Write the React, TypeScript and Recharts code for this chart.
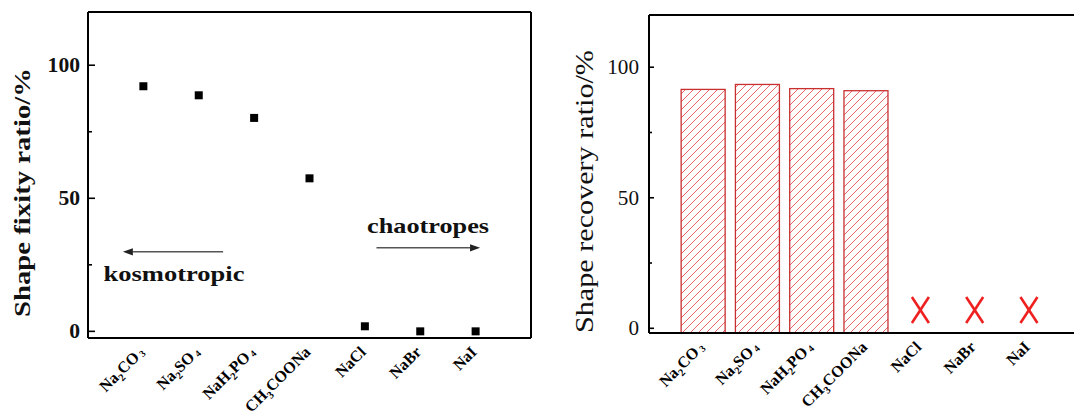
import React from 'react';
import { ComposedChart, Scatter, Bar, XAxis, YAxis, ReferenceLine, ReferenceDot } from 'recharts';

const SERIF = 'Liberation Serif, Times New Roman, serif';

// ---- data ----
const categories = ['Na2CO3', 'Na2SO4', 'NaH2PO4', 'CH3COONa', 'NaCl', 'NaBr', 'NaI'];
// label parts: [text, kind]  kind 0 = normal, 1 = subscript, 2 = trailing subscript
const categoryLabels: [string, number][][] = [
  [['Na', 0], ['2', 1], ['CO', 0], ['3', 2]],
  [['Na', 0], ['2', 1], ['SO', 0], ['4', 2]],
  [['NaH', 0], ['2', 1], ['PO', 0], ['4', 2]],
  [['CH', 0], ['3', 1], ['COONa', 0]],
  [['NaCl', 0]],
  [['NaBr', 0]],
  [['NaI', 0]],
];
const categoryIndex = [1, 2, 3, 4, 5, 6, 7];
const fixityRatio = [92.1, 88.7, 80.2, 57.5, 1.9, 0, 0];
const recoveryRatio = [91.5, 93.4, 91.8, 91.0]; // Na2CO3, Na2SO4, NaH2PO4, CH3COONa
const failedCategories = [5, 6, 7]; // NaCl, NaBr, NaI: no recovery (marked X)
const failedMarkerLevel = 7;
const yTicks = [0, 25, 50, 75, 100];
const yMajorTicks = [0, 50, 100];

const LEFT_Y_DOMAIN: [number, number] = [-2.5, 120];
const RIGHT_Y_DOMAIN: [number, number] = [-1.8, 120];
const LEFT_X_DOMAIN: [number, number] = [0, 8];
const RIGHT_X_DOMAIN: [number, number] = [0, 7.83];

const leftPoints = categoryIndex.map((x, i) => ({ x, y: fixityRatio[i], name: categories[i] }));
const rightBars = recoveryRatio.map((v, i) => ({ x: categoryIndex[i], range: [RIGHT_Y_DOMAIN[0], v], name: categories[i] }));
const failedPoints = failedCategories.map((x) => ({ x, y: failedMarkerLevel, name: categories[x - 1] }));

// ---- helpers ----
function renderParts(parts: [string, number][]) {
  let off = 0;
  return parts.map(([t, k], i) => {
    const target = k === 1 ? 4 : k === 2 ? 1.5 : 0;
    const dy = target - off;
    off = target;
    return (
      <tspan key={i} dy={dy} dx={k === 2 ? 2.5 : 0} fontSize={k === 0 ? 16 : k === 1 ? 10.5 : 9.5}>
        {t}
      </tspan>
    );
  });
}

const XTick = (props: any) => {
  const { x, y, payload } = props;
  const parts = categoryLabels[Math.round(payload.value) - 1];
  if (!parts) return null;
  return (
    <g transform={`translate(${x + 2},${y + 15})`}>
      <g transform="rotate(-45)">
        <text x={0} y={0} textAnchor="end" fontFamily={SERIF} fontWeight="bold" fill="#000">
          {renderParts(parts)}
        </text>
      </g>
    </g>
  );
};

const makeYTick = (o: { major: number; minor: number; bold: boolean; gap: number; digitW: number }) => (props: any) => {
  const { x, y, payload } = props;
  const v = payload.value;
  const isMajor = yMajorTicks.includes(v);
  const label = String(v);
  return (
    <g>
      <line x1={x} x2={x + (isMajor ? o.major : o.minor)} y1={y} y2={y} stroke="#000" strokeWidth={1.6} />
      {isMajor && (
        <text
          x={x - o.gap}
          y={y}
          dy="0.35em"
          textAnchor="end"
          fontFamily={SERIF}
          fontSize={20}
          fontWeight={o.bold ? 'bold' : 'normal'}
          fill="#111"
          textLength={label.length * o.digitW}
          lengthAdjust="spacingAndGlyphs"
        >
          {label}
        </text>
      )}
    </g>
  );
};

const LeftYTick = makeYTick({ major: 7, minor: 4, bold: true, gap: 8, digitW: 10.8 });
const RightYTick = makeYTick({ major: 5, minor: 3, bold: false, gap: 10, digitW: 10.6 });

const Square = (p: any) => <rect x={p.cx - 4} y={p.cy - 4} width={8} height={8} fill="#000" />;

const Cross = (p: any) => {
  const { cx, cy } = p;
  const w = 8.5;
  const h = 13;
  return (
    <g stroke="#ee2020" strokeWidth={2.6} strokeLinecap="butt">
      <line x1={cx - w} y1={cy - h} x2={cx + w} y2={cy + h} />
      <line x1={cx + w} y1={cy - h} x2={cx - w} y2={cy + h} />
    </g>
  );
};

// hatched bar: white box, thin "/" red lines (fixed page phase) clipped to the box, red outline
const HATCH_STEP = 8;
const HATCH_PHASE = 3;
const HatchBar = (p: any) => {
  const { x, y, width, height, index } = p;
  if (!(width > 0) || !(height > 0)) return null;
  const id = `hatch-clip-${index}`;
  const lines = [];
  const cStart = Math.ceil((x + y) / HATCH_STEP) * HATCH_STEP + HATCH_PHASE;
  const cEnd = x + width + y + height;
  for (let c = cStart; c <= cEnd; c += HATCH_STEP) {
    lines.push(
      <line key={c} x1={c - (y + height)} y1={y + height} x2={c - y} y2={y} stroke="#e04040" strokeWidth={1} />
    );
  }
  return (
    <g>
      <defs>
        <clipPath id={id}>
          <rect x={x} y={y} width={width} height={height} />
        </clipPath>
      </defs>
      <rect x={x} y={y} width={width} height={height} fill="#fff" />
      <g clipPath={`url(#${id})`} opacity={0.8}>{lines}</g>
      <rect x={x} y={y} width={width} height={height} fill="none" stroke="#c83030" strokeWidth={1.3} />
    </g>
  );
};

const Arrow = (p: any) => {
  const { x1, y1, x2, y2 } = p;
  const ang = Math.atan2(y2 - y1, x2 - x1);
  const L = 10;
  const W = 3.6;
  const bx = x2 - L * Math.cos(ang);
  const by = y2 - L * Math.sin(ang);
  const nx = -Math.sin(ang) * W;
  const ny = Math.cos(ang) * W;
  return (
    <g>
      <line x1={x1} y1={y1} x2={bx} y2={by} stroke="#555" strokeWidth={1.6} />
      <polygon points={`${x2},${y2} ${bx + nx},${by + ny} ${bx - nx},${by - ny}`} fill="#222" />
    </g>
  );
};

const makeNote = (text: string, len: number) => (p: any) => (
  <text
    x={p.cx}
    y={p.cy}
    fontFamily={SERIF}
    fontWeight="bold"
    fontSize={21}
    fill="#111"
    textLength={len}
    lengthAdjust="spacingAndGlyphs"
  >
    {text}
  </text>
);

export default function App() {
  return (
    <div style={{ position: 'absolute', left: 0, top: 0, width: 1074, height: 413, background: '#fff', overflow: 'hidden' }}>
      {/* Left panel: shape fixity ratio */}
      <div style={{ position: 'absolute', left: 0, top: 0 }}>
        <ComposedChart width={540} height={413} margin={{ top: 12, right: 9, bottom: 15, left: 0 }} data={leftPoints}>
          <XAxis
            type="number"
            dataKey="x"
            domain={LEFT_X_DOMAIN}
            ticks={categoryIndex}
            interval={0}
            allowDataOverflow
            height={60}
            tickSize={0}
            tickMargin={0}
            tickLine={false}
            axisLine={{ stroke: '#000', strokeWidth: 2 }}
            tick={<XTick />}
          />
          <YAxis
            type="number"
            dataKey="y"
            domain={LEFT_Y_DOMAIN}
            ticks={yTicks}
            interval={0}
            allowDataOverflow
            width={88}
            tickSize={0}
            tickMargin={0}
            tickLine={false}
            axisLine={{ stroke: '#000', strokeWidth: 2 }}
            tick={<LeftYTick />}
          />
          <ReferenceLine y={LEFT_Y_DOMAIN[1]} stroke="#000" strokeWidth={2} />
          <ReferenceLine x={LEFT_X_DOMAIN[1]} stroke="#000" strokeWidth={2} />
          <Scatter data={leftPoints} dataKey="y" shape={<Square />} isAnimationActive={false} />
          <ReferenceLine segment={[{ x: 2.44, y: 29.9 }, { x: 0.63, y: 29.9 }]} shape={<Arrow />} />
          <ReferenceLine segment={[{ x: 5.21, y: 31.4 }, { x: 7.08, y: 31.4 }]} shape={<Arrow />} />
          <ReferenceDot x={5.04} y={36.8} r={0} shape={makeNote('chaotropes', 122)} />
          <ReferenceDot x={0.28} y={18.9} r={0} shape={makeNote('kosmotropic', 141)} />
        </ComposedChart>
      </div>

      {/* Right panel: shape recovery ratio */}
      <div style={{ position: 'absolute', left: 540, top: 0 }}>
        <ComposedChart width={534} height={413} margin={{ top: 15, right: 0, bottom: 20, left: 0 }} data={rightBars}>
          <XAxis
            type="number"
            dataKey="x"
            domain={RIGHT_X_DOMAIN}
            ticks={categoryIndex}
            interval={0}
            allowDataOverflow
            height={60}
            tickSize={0}
            tickMargin={0}
            tickLine={false}
            axisLine={{ stroke: '#000', strokeWidth: 2 }}
            tick={<XTick />}
          />
          <YAxis
            type="number"
            dataKey="y"
            domain={RIGHT_Y_DOMAIN}
            ticks={yTicks}
            interval={0}
            allowDataOverflow
            width={109}
            tickSize={0}
            tickMargin={0}
            tickLine={false}
            axisLine={{ stroke: '#000', strokeWidth: 2 }}
            tick={<RightYTick />}
          />
          <ReferenceLine y={RIGHT_Y_DOMAIN[1]} stroke="#000" strokeWidth={2} />
          <Bar dataKey="range" barSize={44} shape={<HatchBar />} isAnimationActive={false} />
          <Scatter data={failedPoints} dataKey="y" shape={<Cross />} isAnimationActive={false} />
        </ComposedChart>
      </div>

      {/* Axis titles */}
      <svg width={1074} height={413} style={{ position: 'absolute', left: 0, top: 0, pointerEvents: 'none' }}>
        <text
          transform="translate(29.5,192.5) rotate(-90)"
          textAnchor="middle"
          fontFamily={SERIF}
          fontWeight="bold"
          fontSize={24}
          fill="#111"
          textLength={249}
          lengthAdjust="spacingAndGlyphs"
        >
          Shape fixity ratio/%
        </text>
        <text
          transform="translate(593,191.5) rotate(-90)"
          textAnchor="middle"
          fontFamily={SERIF}
          fontSize={25}
          fill="#111"
          textLength={283}
          lengthAdjust="spacingAndGlyphs"
        >
          Shape recovery ratio/%
        </text>
      </svg>
    </div>
  );
}
